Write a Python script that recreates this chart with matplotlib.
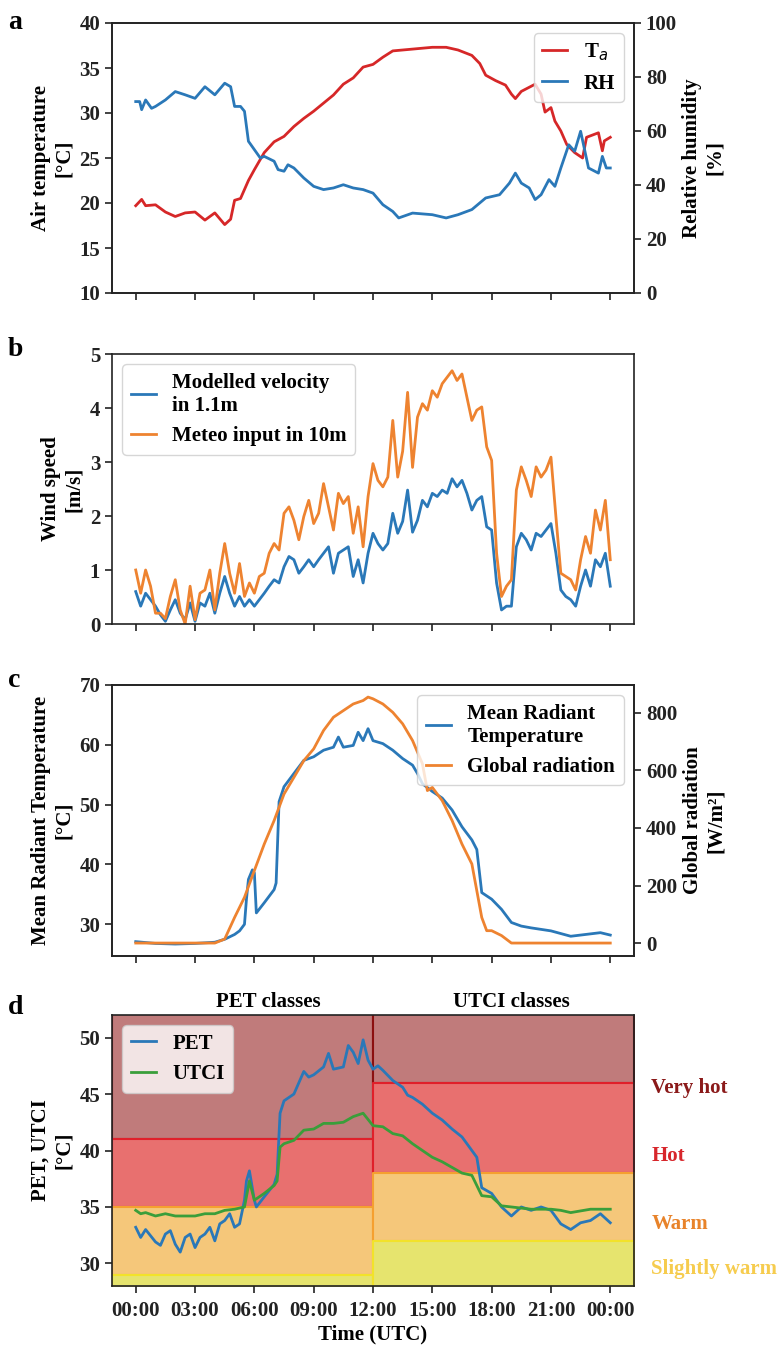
import matplotlib
matplotlib.use('Agg')
import matplotlib.pyplot as plt
import matplotlib.transforms as mtransforms

# ---- data (hours UTC) ----
ta_h = [0, 0.3, 0.5, 1, 1.5, 2, 2.5, 3, 3.5, 4, 4.5, 4.8, 5, 5.3, 5.7, 6, 6.5, 7, 7.5, 8,
        8.5, 9, 9.5, 10, 10.5, 11, 11.5, 12, 12.5, 13, 13.5, 14, 15, 15.7, 16.3, 17, 17.4, 17.7, 18.2, 18.7,
        19.0, 19.2, 19.5, 20.2, 20.5, 20.7, 21.0, 21.2, 21.5, 21.8, 22.2, 22.6, 22.8, 23.4, 23.6, 23.7, 24]
ta = [19.7, 20.4, 19.7, 19.8, 19.0, 18.5, 18.9, 19.0, 18.1, 18.9, 17.6, 18.2, 20.3, 20.5, 22.5, 23.7, 25.6, 26.8, 27.4, 28.5,
      29.4, 30.2, 31.1, 32.0, 33.2, 33.9, 35.1, 35.4, 36.2, 36.9, 37.0, 37.1, 37.3, 37.3, 37.0, 36.4, 35.5, 34.2, 33.6, 33.1,
      32.1, 31.6, 32.4, 33.2, 32.1, 30.1, 30.6, 29.1, 28.0, 26.5, 25.6, 25.0, 27.3, 27.8, 25.8, 26.9, 27.3]

rh_h = [0, 0.2, 0.3, 0.5, 0.8, 1, 1.5, 2, 2.5, 3, 3.5, 4, 4.5, 4.8, 5, 5.3, 5.5, 5.7, 6, 6.3,
        6.5, 7, 7.2, 7.5, 7.7, 8, 8.5, 9, 9.5, 10, 10.5, 11, 11.5, 12, 12.5, 13, 13.3, 14, 15, 15.7,
        16.3, 17, 17.7, 18.4, 18.9, 19.2, 19.5, 19.9, 20.2, 20.5, 20.9, 21.2, 21.5, 21.9, 22.2, 22.5, 22.9, 23.4, 23.6, 23.8, 24]
rh = [70.9, 70.9, 67.9, 71.5, 68.4, 69.1, 71.5, 74.6, 73.4, 72.1, 76.4, 73.4, 77.7, 76.4, 69.1, 69.1, 67.3, 56.2, 53.1, 50.0,
      50.6, 48.8, 45.7, 45.1, 47.5, 46.3, 42.6, 39.5, 38.3, 38.9, 40.1, 38.9, 38.3, 37.0, 32.7, 30.2, 27.8, 29.6, 29.0, 27.8,
      29.0, 30.9, 35.2, 36.4, 40.7, 44.4, 40.7, 38.9, 34.6, 36.4, 42.0, 39.5, 46.3, 54.9, 52.5, 59.9, 46.3, 44.4, 50.6, 46.3, 46.3]

# wind, every 15 min
wind_h = [i * 0.25 for i in range(97)]
wind_model = [0.6, 0.33, 0.57, 0.45, 0.33, 0.17, 0.05, 0.26,
              0.45, 0.2, 0.08, 0.39, 0.05, 0.39, 0.33, 0.57,
              0.2, 0.57, 0.88, 0.57, 0.33, 0.51, 0.33, 0.45,
              0.33, 0.45, 0.57, 0.7, 0.82, 0.76, 1.06, 1.25,
              1.19, 0.94, 1.06, 1.19, 1.06, 1.19, 1.31, 1.43,
              0.94, 1.31, 1.37, 1.43, 0.88, 1.19, 0.76, 1.31,
              1.68, 1.49, 1.37, 1.49, 2.05, 1.68, 1.9, 2.48,
              1.7, 1.92, 2.29, 2.17, 2.42, 2.36, 2.48, 2.42,
              2.69, 2.54, 2.66, 2.42, 2.11, 2.29, 2.36, 1.8,
              1.74, 0.76, 0.26, 0.33, 0.33, 1.43, 1.68, 1.56,
              1.37, 1.68, 1.62, 1.74, 1.86, 1.31, 0.63, 0.51,
              0.45, 0.33, 0.7, 1.0, 0.7, 1.19, 1.06, 1.31,
              0.7]
wind_meteo = [1.0, 0.57, 1.0, 0.7, 0.2, 0.2, 0.1, 0.51,
              0.82, 0.26, 0.0, 0.7, 0.08, 0.57, 0.63, 1.0,
              0.26, 0.94, 1.49, 0.94, 0.57, 1.12, 0.51, 0.76,
              0.57, 0.88, 0.94, 1.31, 1.49, 1.37, 2.05, 2.17,
              1.92, 1.56, 1.99, 2.29, 1.86, 2.05, 2.6, 2.17,
              1.74, 2.42, 2.23, 2.36, 1.68, 2.17, 1.43, 2.36,
              2.97, 2.66, 2.54, 2.72, 3.77, 2.72, 3.2, 4.29,
              2.9, 3.83, 4.08, 3.96, 4.32, 4.2, 4.45, 4.57,
              4.69, 4.51, 4.63, 4.2, 3.77, 3.96, 4.02, 3.28,
              3.03, 1.31, 0.51, 0.7, 0.82, 2.48, 2.91, 2.66,
              2.36, 2.91, 2.72, 2.85, 3.09, 1.99, 0.94, 0.88,
              0.82, 0.63, 1.19, 1.62, 1.31, 2.11, 1.74, 2.29,
              1.19]

mrt_h = [0, 1, 2, 3, 4, 4.5, 5, 5.25, 5.5, 5.6, 5.7, 5.9, 6, 6.1, 6.5, 7, 7.1, 7.25, 7.5, 8,
         8.5, 9, 9.5, 10, 10.25, 10.5, 11, 11.25, 11.5, 11.75, 12, 12.5, 13, 13.5, 14, 14.25, 14.5, 15, 15.5, 16,
         16.5, 17, 17.25, 17.5, 18, 18.5, 19, 19.5, 20, 21, 22, 22.5, 23, 23.5, 24]
mrt = [27.1, 26.8, 26.7, 26.8, 27.0, 27.5, 28.3, 28.9, 30.0, 34.2, 37.5, 39.1, 38.6, 31.9, 33.6, 35.8, 36.9, 50.5, 53.0, 55.2,
       57.4, 58.0, 59.1, 59.6, 61.3, 59.6, 59.9, 62.1, 60.7, 62.7, 60.7, 60.2, 59.1, 57.7, 56.6, 55.2, 53.5, 52.2, 51.1, 49.1,
       46.3, 44.1, 42.5, 35.3, 34.2, 32.5, 30.3, 29.7, 29.4, 28.9, 28.0, 28.2, 28.4, 28.6, 28.2]

glob_h = [0, 4, 4.5, 5, 5.5, 6, 6.5, 7, 7.5, 8, 8.5, 9, 9.5, 10, 10.5, 11, 11.5, 11.75, 12, 12.5,
          13, 13.5, 14, 14.5, 14.75, 15, 15.5, 16, 16.5, 17, 17.5, 17.75, 18, 18.5, 19, 24]
glob = [0, 0, 14, 89, 159, 252, 344, 426, 518, 576, 634, 675, 739, 785, 808, 831, 843, 855, 849, 831,
        802, 762, 704, 623, 530, 541, 495, 426, 344, 275, 89, 43, 43, 26, 0, 0]

pet_h = [0, 0.25, 0.5, 1, 1.25, 1.5, 1.75, 2, 2.25, 2.5, 2.75, 3, 3.25, 3.5, 3.75, 4, 4.25, 4.5, 4.75, 5,
         5.25, 5.5, 5.6, 5.75, 6, 6.1, 6.5, 7, 7.15, 7.3, 7.5, 8, 8.5, 8.75, 9, 9.5, 9.75, 10, 10.5, 10.75,
         11, 11.25, 11.5, 11.75, 12, 12.25, 12.5, 13, 13.25, 13.5, 13.75, 14, 14.5, 15, 15.5, 16, 16.5, 17, 17.25, 17.5,
         18, 18.5, 19, 19.5, 20, 20.5, 21, 21.5, 22, 22.5, 23, 23.5, 24]
pet = [33.2, 32.3, 33.0, 31.9, 31.6, 32.6, 32.9, 31.7, 31.0, 32.3, 32.6, 31.4, 32.3, 32.6, 33.2, 32.0, 33.5, 33.8, 34.4, 33.2,
       33.5, 35.6, 37.3, 38.2, 35.6, 35.0, 35.9, 37.0, 37.9, 43.3, 44.4, 45.0, 47.0, 46.5, 46.7, 47.4, 48.6, 47.2, 47.4, 49.3,
       48.7, 47.7, 49.8, 48.0, 47.2, 47.5, 47.1, 46.2, 45.9, 45.6, 44.9, 44.7, 44.1, 43.3, 42.7, 41.9, 41.2, 40.0, 39.4, 36.7,
       36.2, 35.0, 34.2, 35.0, 34.7, 35.0, 34.7, 33.5, 33.0, 33.6, 33.8, 34.4, 33.6]

utci_h = [0, 0.25, 0.5, 1, 1.5, 2, 2.5, 3, 3.5, 4, 4.5, 5, 5.5, 5.75, 6, 6.5, 7, 7.15, 7.3, 7.5,
          8, 8.5, 9, 9.5, 10, 10.5, 11, 11.5, 12, 12.5, 13, 13.5, 14, 14.5, 15, 15.5, 16, 16.5, 17, 17.5,
          18, 18.5, 19, 20, 21, 21.5, 22, 23, 24]
utci = [34.7, 34.4, 34.5, 34.2, 34.4, 34.2, 34.2, 34.2, 34.4, 34.4, 34.7, 34.8, 35.0, 37.3, 35.6, 36.2, 36.9, 37.3, 40.3, 40.6,
        40.9, 41.8, 41.9, 42.4, 42.4, 42.5, 43.0, 43.3, 42.2, 42.1, 41.5, 41.3, 40.6, 40.0, 39.4, 39.0, 38.5, 38.0, 37.8, 36.0,
        35.9, 35.1, 35.0, 34.8, 34.8, 34.7, 34.5, 34.8, 34.8]

class_names = ['Slightly warm', 'Warm', 'Hot', 'Very hot']
pet_limits = [23, 29, 35, 41, 60]
utci_limits = [26, 32, 38, 46, 60]
split_h = 12

tick_hours = [0, 3, 6, 9, 12, 15, 18, 21, 24]
tick_labels = ['00:00', '03:00', '06:00', '09:00', '12:00', '15:00', '18:00', '21:00', '00:00']

# ---- style ----
plt.rcParams['font.family'] = ['Liberation Serif', 'DejaVu Sans']
plt.rcParams['font.weight'] = 'bold'
plt.rcParams['axes.labelweight'] = 'bold'
plt.rcParams['font.size'] = 15
plt.rcParams['mathtext.fontset'] = 'custom'
plt.rcParams['mathtext.rm'] = 'Liberation Serif:bold'
plt.rcParams['mathtext.it'] = 'DejaVu Sans:italic:weight=normal'
plt.rcParams['legend.handlelength'] = 1.2
plt.rcParams['axes.linewidth'] = 1.2
plt.rcParams['axes.edgecolor'] = '#222222'
for ax_name in ['xtick', 'ytick']:
    plt.rcParams[ax_name + '.major.size'] = 5
    plt.rcParams[ax_name + '.major.width'] = 1.2
    plt.rcParams[ax_name + '.color'] = '#222222'

BLUE = '#2a78b8'
RED = '#d62728'
ORANGE = '#ee8330'
GREEN = '#3a9e3a'
LW = 2.0
FS = 15

band_fill = ['#e6e46e', '#f5c77a', '#e8706f', '#c07b7b']
band_edge = ['#f2e22a', '#f5a030', '#e0202a', '#8b1010']
text_cols = ['#f6cc4e', '#e8832a', '#d7262b', '#8b1a1a']

fig = plt.figure(figsize=(7.79, 13.52), dpi=100)
H = 1352.0
left = 112 / 779.0
width = (634 - 112) / 779.0


def make_ax(top_px, bot_px):
    return fig.add_axes([left, 1 - bot_px / H, width, (bot_px - top_px) / H])


ax_a = make_ax(23, 293)
ax_b = make_ax(354, 624)
ax_c = make_ax(685, 956)
ax_d = make_ax(1015, 1286)

for ax in [ax_a, ax_b, ax_c, ax_d]:
    ax.set_xlim(-1.2, 25.2)
    ax.set_xticks(tick_hours)
for ax in [ax_a, ax_b, ax_c]:
    ax.tick_params(labelbottom=False)

# a
l1, = ax_a.plot(ta_h, ta, color=RED, lw=LW, label='T$_a$')
ax_a.set_ylim(10, 40)
ax_a.set_ylabel('Air temperature\n[°C]')
ax_a2 = ax_a.twinx()
l2, = ax_a2.plot(rh_h, rh, color=BLUE, lw=LW, label='RH')
ax_a2.set_ylim(0, 100)
ax_a2.set_ylabel('Relative humidity\n[%]')
ax_a2.legend(handles=[l1, l2], loc='upper right', fontsize=FS)

# b
ax_b.plot(wind_h, wind_model, color=BLUE, lw=LW, label='Modelled velocity\nin 1.1m')
ax_b.plot(wind_h, wind_meteo, color=ORANGE, lw=LW, label='Meteo input in 10m')
ax_b.set_ylim(0, 5)
ax_b.set_ylabel('Wind speed\n[m/s]')
ax_b.legend(loc='upper left', fontsize=FS)

# c
l3, = ax_c.plot(mrt_h, mrt, color=BLUE, lw=LW, label='Mean Radiant\nTemperature')
ax_c.set_ylim(24.7, 70)
ax_c.set_yticks([30, 40, 50, 60, 70])
ax_c.set_ylabel('Mean Radiant Temperature\n[°C]')
ax_c2 = ax_c.twinx()
l4, = ax_c2.plot(glob_h, glob, color=ORANGE, lw=LW, label='Global radiation')
ax_c2.set_ylim(-45, 897)
ax_c2.set_yticks([0, 200, 400, 600, 800])
ax_c2.set_ylabel('Global radiation\n[W/m²]')
ax_c2.legend(handles=[l3, l4], loc='upper right', fontsize=FS)

# d
x0, x1 = ax_d.get_xlim()
for i in range(len(class_names) - 1, -1, -1):
    ax_d.fill_between([x0, split_h], pet_limits[i], pet_limits[i + 1],
                      facecolor=band_fill[i], edgecolor=band_edge[i], linewidth=1.5, zorder=0)
    ax_d.fill_between([split_h, x1], utci_limits[i], utci_limits[i + 1],
                      facecolor=band_fill[i], edgecolor=band_edge[i], linewidth=1.5, zorder=0)
ax_d.plot(pet_h, pet, color=BLUE, lw=LW, label='PET')
ax_d.plot(utci_h, utci, color=GREEN, lw=LW, label='UTCI')
ax_d.set_xlim(x0, x1)
ax_d.set_ylim(28, 52)
ax_d.set_yticks([30, 35, 40, 45, 50])
ax_d.set_xticklabels(tick_labels)
ax_d.tick_params(axis='x', pad=6)
ax_d.set_xlabel('Time (UTC)', labelpad=2)
ax_d.set_ylabel('PET, UTCI\n[°C]')
ax_d.legend(loc='upper left', fontsize=FS)

trans = mtransforms.blended_transform_factory(ax_d.transAxes, ax_d.transData)
label_y = [29.5, 33.5, 39.5, 45.5]
for name, y, c in zip(class_names, label_y, text_cols):
    ax_d.text(1.033, y, name, transform=trans, color=c, fontsize=FS,
              ha='left', va='center', clip_on=False)
trans2 = mtransforms.blended_transform_factory(ax_d.transData, ax_d.transAxes)
ax_d.text(6.7, 1.01, 'PET classes', transform=trans2, ha='center', va='bottom', fontsize=FS)
ax_d.text(19.0, 1.01, 'UTCI classes', transform=trans2, ha='center', va='bottom', fontsize=FS)

# panel letters
for letter, top_px in zip(['a', 'b', 'c', 'd'], [10, 337, 668, 995]):
    fig.text(0.01, 1 - top_px / H, letter, fontsize=20, fontweight='bold', ha='left', va='top')

fig.savefig('out.png', dpi=100)
